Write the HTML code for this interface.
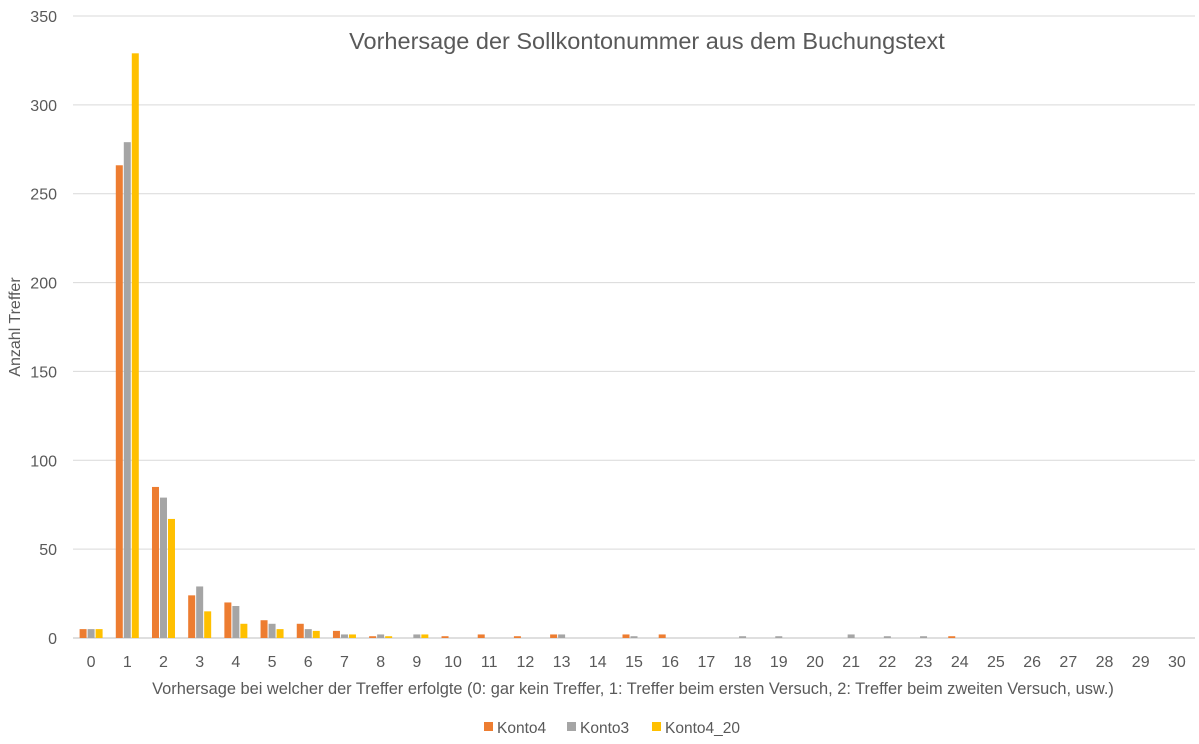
<!DOCTYPE html>
<html><head><meta charset="utf-8"><style>
body{margin:0;background:#fff;font-family:"Liberation Sans",sans-serif}
svg text{font-family:"Liberation Sans",sans-serif;fill:#595959}
</style></head><body>
<svg width="1199" height="739" id="c">
<text x="647" y="49" font-size="23.5" text-anchor="middle">Vorhersage der Sollkontonummer aus dem Buchungstext</text>
<text transform="translate(20,327) rotate(-90)" font-size="16" text-anchor="middle">Anzahl Treffer</text>
<text x="633" y="694" font-size="16.4" text-anchor="middle">Vorhersage bei welcher der Treffer erfolgte (0: gar kein Treffer, 1: Treffer beim ersten Versuch, 2: Treffer beim zweiten Versuch, usw.)</text>
<g id="grid"></g><g id="bars"></g><g id="ticks"></g>
<g>
<rect x="484" y="722" width="9" height="9" fill="#ED7D31"/>
<text x="497" y="733" font-size="15.5">Konto4</text>
<rect x="567" y="722" width="9" height="9" fill="#A5A5A5"/>
<text x="580" y="733" font-size="15.5">Konto3</text>
<rect x="652" y="722" width="9" height="9" fill="#FFC000"/>
<text x="665" y="733" font-size="15.5">Konto4_20</text>
</g>
</svg>
<script>
const categories=[0,1,2,3,4,5,6,7,8,9,10,11,12,13,14,15,16,17,18,19,20,21,22,23,24,25,26,27,28,29,30];
const konto4=[5,266,85,24,20,10,8,4,1,0,1,2,1,2,0,2,2,0,0,0,0,0,0,0,1,0,0,0,0,0,0];
const konto3=[5,279,79,29,18,8,5,2,2,2,0,0,0,2,0,1,0,0,1,1,0,2,1,1,0,0,0,0,0,0,0];
const konto4_20=[5,329,67,15,8,5,4,2,1,2,0,0,0,0,0,0,0,0,0,0,0,0,0,0,0,0,0,0,0,0,0];
const yTicks=[0,50,100,150,200,250,300,350];
const NS="http://www.w3.org/2000/svg";
const x0=73,x1=1195,yb=638,yt=16,yMax=350;
const bw=(x1-x0)/categories.length;
const xC=i=>x0+bw*(i+0.5);
const yS=v=>yb-(v/yMax)*(yb-yt);
function mk(t,a,p){const e=document.createElementNS(NS,t);for(const k in a)e.setAttribute(k,a[k]);p.appendChild(e);return e;}
const grid=document.getElementById('grid'),bars=document.getElementById('bars'),ticks=document.getElementById('ticks');
yTicks.forEach(v=>{
 const l=mk('line',{x1:x0,x2:x1,y1:yS(v),y2:yS(v),stroke:v===0?'#BFBFBF':'#D9D9D9','stroke-width':1},grid);
 
 
 const t=mk('text',{x:57,y:yS(v)+6,'font-size':16,'text-anchor':'end'},ticks);
 t.textContent=v;
 
 
});
const series=[[konto4,'#ED7D31','konto4'],[konto3,'#A5A5A5','konto3'],[konto4_20,'#FFC000','konto4-20']];
categories.forEach((c,i)=>{
 series.forEach((s,j)=>{
  const v=s[0][i];if(!v)return;
  const r=mk('rect',{x:xC(i)-11.5+j*8,y:yS(v),width:7,height:yb-yS(v),fill:s[1]},bars);
  
  
 });
 const t=mk('text',{x:xC(i),y:667,'font-size':16,'text-anchor':'middle'},ticks);
 t.textContent=c;
 
 
});
</script>
</body></html>
